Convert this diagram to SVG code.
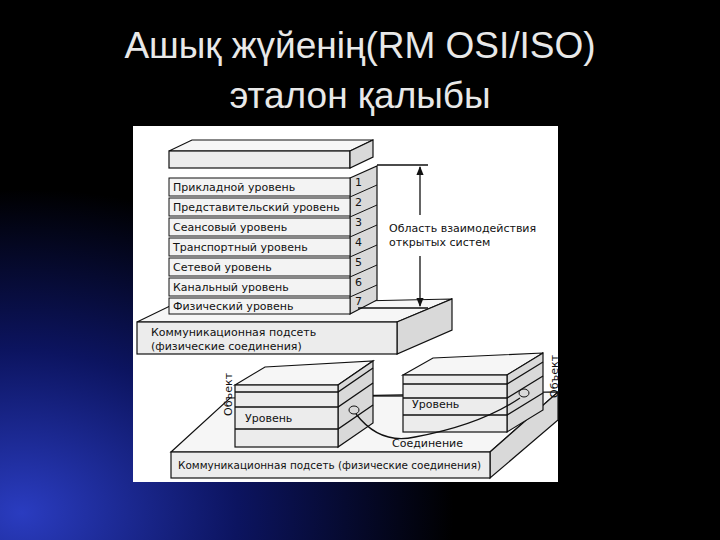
<svg xmlns="http://www.w3.org/2000/svg" width="720" height="540" viewBox="0 0 720 540">
<defs>
<radialGradient id="bg" cx="0.03" cy="0.95" r="0.6">
<stop offset="0" stop-color="#2a3cc0"/><stop offset="0.5" stop-color="#0c1460"/><stop offset="1" stop-color="#000"/>
</radialGradient>
<marker id="ar" viewBox="0 0 10 10" refX="9" refY="5" markerWidth="7" markerHeight="7" orient="auto-start-reverse"><path d="M0,1 L10,5 L0,9 z" fill="#111"/></marker>
<style>
.t{font-family:"Liberation Sans",Arial,sans-serif;fill:#e8e8e8;font-size:37px;text-anchor:middle}
.s{stroke:#111;stroke-width:1.2;fill:#ececec}
.f{stroke:#111;stroke-width:1.2;fill:#f6f6f6}
.r{stroke:#111;stroke-width:1.2;fill:#d9d9d9}
.l{font-family:"DejaVu Sans",sans-serif;font-size:11px;fill:#111}
.n{font-family:"DejaVu Sans",sans-serif;font-size:11px;fill:#111}
.ln{stroke:#111;stroke-width:1.3;fill:none}
</style>
</defs>
<rect width="720" height="540" fill="#000"/>
<rect width="720" height="540" fill="url(#bg)"/>
<text class="t" x="360" y="58">Ашық жүйенің(RM OSI/ISO)</text>
<text class="t" x="360" y="108">эталон қалыбы</text>
<rect x="133" y="126" width="425" height="356" fill="#fff"/>
<g id="base-top">
<polygon class="f" points="137,322 172,305 452,299 397,322"/>
<polygon class="r" points="397,322 452,299 452,330 397,354"/>
<rect class="s" x="137" y="322" width="260" height="32"/>
<text class="l" x="151" y="336">Коммуникационная подсеть</text>
<text class="l" x="151" y="350">(физические соединения)</text>
</g>
<g id="stack">
<polygon class="f" points="169,151 192,140 373,140 350,151"/>
<rect class="s" x="169" y="151" width="181" height="17"/>
<polygon class="r" points="350,151 373,140 373,157 350,168"/>
<polygon class="r" points="350,178 377,166 377,300 350,314"/>
<g fill="#f3f3f3" stroke="#111">
<rect x="169" y="178" width="181" height="18"/><rect x="169" y="198" width="181" height="18"/>
<rect x="169" y="218" width="181" height="18"/><rect x="169" y="238" width="181" height="18"/>
<rect x="169" y="258" width="181" height="18"/><rect x="169" y="278" width="181" height="18"/>
<rect x="169" y="298" width="181" height="16"/>
<path d="M350,197 L377,185 M350,217 L377,205 M350,237 L377,225 M350,257 L377,245 M350,277 L377,265 M350,297 L377,285" fill="none"/>
</g>
<text class="l" x="173" y="191">Прикладной уровень</text>
<text class="l" x="173" y="211">Представительский уровень</text>
<text class="l" x="173" y="231">Сеансовый уровень</text>
<text class="l" x="173" y="251">Транспортный уровень</text>
<text class="l" x="173" y="271">Сетевой уровень</text>
<text class="l" x="173" y="291">Канальный уровень</text>
<text class="l" x="173" y="310">Физический уровень</text>
<text class="n" x="355" y="186">1</text><text class="n" x="355" y="206">2</text><text class="n" x="355" y="226">3</text>
<text class="n" x="355" y="246">4</text><text class="n" x="355" y="266">5</text><text class="n" x="355" y="286">6</text><text class="n" x="355" y="305">7</text>
</g>
<text class="l" x="389" y="232">Область взаимодействия</text>
<text class="l" x="389" y="246">открытых систем</text>
<g id="sub-bottom">
<polygon class="f" points="171,452 230,398 558,392 490,452"/>
<polygon class="r" points="490,452 558,392 558,420 490,478"/>
<rect class="s" x="171" y="452" width="319" height="26"/>
<text class="l" x="178" y="469" textLength="303" lengthAdjust="spacingAndGlyphs">Коммуникационная подсеть (физические соединения)</text>
</g>
<g id="obj-left">
<polygon class="f" points="235,385 265,367 373,361 338,385"/>
<polygon class="r" points="338,385 373,361 373,423 338,447"/>
<rect class="s" x="235" y="385" width="103" height="62"/>
<path class="ln" d="M235,392 H338 L373,368 M235,407 H338 L373,383 M235,429 H338 L373,405"/>
<ellipse cx="354" cy="410" rx="5" ry="4" fill="none" stroke="#111"/>
<text class="l" x="245" y="422">Уровень</text>
<text class="l" transform="translate(232,416) rotate(-90)">Объект</text>
</g>
<g id="obj-right">
<polygon class="f" points="403,375 433,358 543,353 507,375"/>
<polygon class="r" points="507,375 543,353 543,410 507,432"/>
<rect class="s" x="403" y="375" width="104" height="57"/>
<path class="ln" d="M403,384 H507 L543,362 M403,398 H507 L543,376 M403,415 H507 L543,393"/>
<ellipse cx="524" cy="393" rx="5" ry="4" fill="none" stroke="#111"/>
<text class="l" x="412" y="408">Уровень</text>
<text class="l" transform="translate(558,398) rotate(-90)">Объект</text>
</g>
<g id="connectors">
<path class="ln" d="M377,165 H428 M358,308 H428"/>
<path class="ln" d="M420,215 V167" marker-end="url(#ar)"/>
<path class="ln" d="M420,256 V306" marker-end="url(#ar)"/>
<path class="ln" d="M373,396 H403"/>
<path class="ln" d="M356,414 Q380,445 415,437 Q480,425 520,398"/>
</g>
<text class="l" x="392" y="447">Соединение</text>
</svg>
